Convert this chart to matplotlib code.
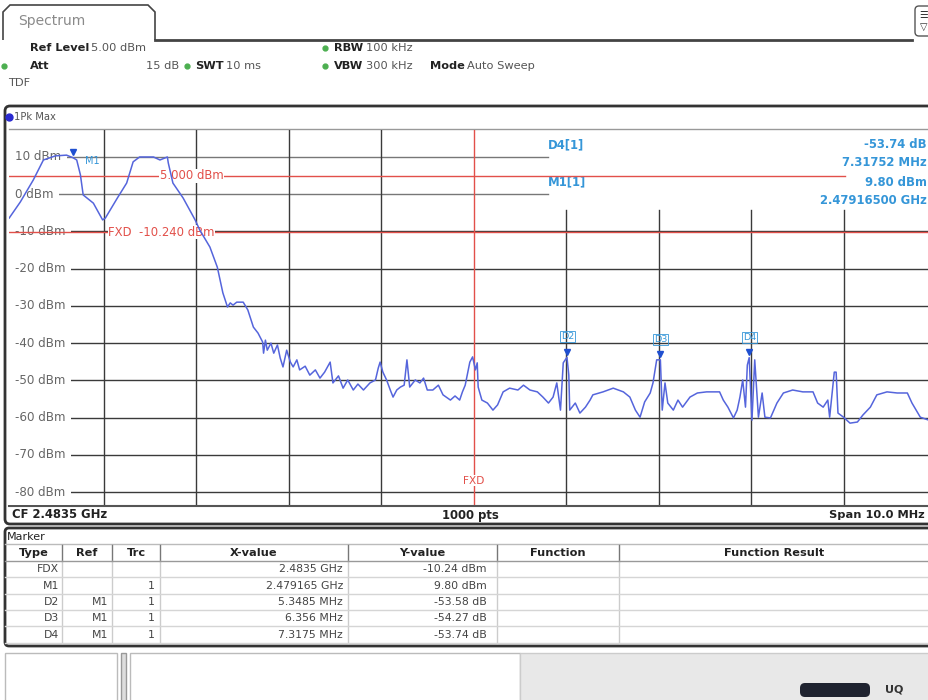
import matplotlib
matplotlib.use("Agg")
import matplotlib.pyplot as plt
from matplotlib.patches import FancyBboxPatch, Rectangle, Polygon

W, H = 929, 700

# trace: offset from CF (MHz) and level (dBm)
trace_mhz = [-5.02, -4.90, -4.76, -4.65, -4.52, -4.40, -4.33, -4.29, -4.25, -4.22,
             -4.11, -4.01, -3.98, -3.85, -3.75, -3.68, -3.61, -3.46, -3.39, -3.31,
             -3.30, -3.25, -3.14, -3.01, -2.96, -2.85, -2.77, -2.71, -2.66, -2.63,
             -2.60, -2.56, -2.49, -2.44, -2.38, -2.33, -2.28, -2.27, -2.25, -2.23,
             -2.19, -2.16, -2.12, -2.09, -2.06, -2.02, -1.98, -1.95, -1.91, -1.88,
             -1.82, -1.77, -1.71, -1.66, -1.61, -1.55, -1.52, -1.46, -1.41, -1.36,
             -1.30, -1.25, -1.19, -1.15, -1.12, -1.06, -1.03, -1.01, -0.98, -0.94,
             -0.90, -0.87, -0.83, -0.79, -0.75, -0.72, -0.69, -0.63, -0.58, -0.54,
             -0.50, -0.44, -0.38, -0.33, -0.25, -0.20, -0.15, -0.12, -0.09, -0.04,
             -0.01, 0.02, 0.04, 0.05, 0.09, 0.15, 0.21, 0.26, 0.32, 0.39,
             0.48, 0.54, 0.61, 0.69, 0.75, 0.81, 0.86, 0.90, 0.94, 0.97,
             1.01, 1.03, 1.04, 1.10, 1.15, 1.21, 1.26, 1.29, 1.40, 1.51,
             1.62, 1.69, 1.75, 1.80, 1.85, 1.91, 1.94, 1.98, 2.02, 2.04,
             2.07, 2.10, 2.16, 2.21, 2.26, 2.34, 2.42, 2.52, 2.66, 2.70,
             2.75, 2.81, 2.85, 2.88, 2.91, 2.94, 2.96, 2.98, 3.01, 3.04,
             3.08, 3.12, 3.15, 3.21, 3.28, 3.35, 3.45, 3.56, 3.67, 3.72,
             3.78, 3.83, 3.85, 3.90, 3.92, 3.94, 4.00, 4.07, 4.15, 4.21,
             4.29, 4.36, 4.47, 4.58, 4.69, 4.74, 4.83, 4.92, 5.00]
trace_dbm = [-6.4, -2.1, 3.8, 9.2, 10.3, 10.5, 9.8, 9.2, 5.2, -0.2,
             -2.4, -6.9, -6.4, -1.0, 3.0, 8.7, 10.0, 10.0, 9.2, 10.0,
             8.4, 3.0, -1.0, -6.9, -9.6, -14.2, -19.6, -26.5, -30.3, -29.2,
             -29.8, -29.0, -29.0, -31.1, -35.7, -37.3, -39.7, -42.7, -39.2, -41.9,
             -40.0, -42.7, -40.5, -44.0, -46.4, -41.9, -45.1, -46.4, -44.5, -47.2,
             -46.2, -48.6, -47.2, -49.4, -47.8, -45.1, -50.7, -48.8, -52.1, -49.9,
             -52.6, -51.0, -52.6, -51.5, -50.7, -49.9, -46.7, -45.1, -47.8, -49.9,
             -52.6, -54.5, -52.6, -51.8, -51.3, -44.5, -51.8, -49.9, -50.7, -49.4,
             -52.6, -52.6, -51.3, -53.9, -55.3, -54.2, -55.3, -53.1, -51.3, -45.1,
             -43.7, -47.2, -45.3, -51.8, -55.3, -56.1, -58.0, -56.6, -53.1, -52.1,
             -52.6, -51.3, -52.6, -53.1, -54.5, -56.1, -54.5, -50.7, -58.0, -45.3,
             -43.8, -48.6, -58.0, -56.1, -58.8, -57.2, -55.3, -53.9, -53.1, -52.1,
             -53.1, -54.5, -58.0, -59.9, -55.8, -53.4, -50.7, -44.5, -44.5, -58.0,
             -50.7, -56.1, -58.0, -55.3, -57.2, -54.5, -53.4, -53.1, -53.1, -55.3,
             -57.2, -60.1, -58.0, -54.5, -49.9, -57.2, -45.9, -43.9, -60.7, -44.5,
             -59.9, -53.4, -59.9, -60.1, -56.1, -53.4, -52.6, -53.1, -53.1, -56.1,
             -57.2, -55.3, -59.9, -47.8, -47.8, -58.8, -59.9, -61.5, -61.2, -59.3,
             -57.2, -53.9, -53.1, -53.4, -53.4, -56.1, -59.9, -60.7, -61.0]

level_grid = [10, 0, -10, -20, -30, -40, -50, -60, -70, -80]
freq_grid = [-4, -3, -2, -1, 1, 2, 3, 4]

display_line = 5.0
fxd_level = -10.24

marker_names = ["M1", "D2", "D3", "D4"]
marker_mhz = [-4.335, 1.0135, 2.021, 2.9825]
marker_dbm = [9.80, -43.78, -44.47, -43.94]

tbl_type = ["FDX", "M1", "D2", "D3", "D4"]
tbl_ref = ["", "", "M1", "M1", "M1"]
tbl_trc = ["", "1", "1", "1", "1"]
tbl_x = ["2.4835 GHz", "2.479165 GHz", "5.3485 MHz", "6.356 MHz", "7.3175 MHz"]
tbl_y = ["-10.24 dBm", "9.80 dBm", "-53.58 dB", "-54.27 dB", "-53.74 dB"]

readout = [("D4[1]", "-53.74 dB"), ("", "7.31752 MHz"),
           ("M1[1]", "9.80 dBm"), ("", "2.47916500 GHz")]

TRACE = "#5565dc"
RED = "#e2504a"
MBLUE = "#3596d8"
GRID = "#3a3a3a"
TXT = "#222222"


def px_rect(x0, y0, x1, y1):
    return [x0 / W, 1 - y1 / H, (x1 - x0) / W, (y1 - y0) / H]


fig = plt.figure(figsize=(W / 100, H / 100), dpi=100)
fig.patch.set_facecolor("white")

bg = fig.add_axes([0, 0, 1, 1])
bg.set_xlim(0, W)
bg.set_ylim(H, 0)
bg.axis("off")

# tab and header
tab = Polygon([(3, 40), (3, 12), (10, 5), (148, 5), (155, 12), (155, 40)],
              closed=False, fill=False, ec="#444444", lw=1.2)
bg.add_patch(tab)
bg.plot([155, 912], [40, 40], color="#444444", lw=2)
bg.text(18, 21, "Spectrum", fontsize=10, color="#8a8a8a", va="center")
bg.add_patch(FancyBboxPatch((915, 6), 18, 30, boxstyle="round,pad=0,rounding_size=4",
                            fc="white", ec="#555555", lw=1))
bg.text(924, 15, "\u2630", fontsize=7, color="#333333", ha="center", va="center")
bg.text(924, 27, "\u25bd", fontsize=7, color="#333333", ha="center", va="center")

fs = 8.2
bg.text(30, 48, "Ref Level", fontsize=fs, weight="bold", color=TXT, va="center")
bg.text(91, 48, "5.00 dBm", fontsize=fs, color="#555555", va="center")
bg.plot([325], [48], "o", ms=3.5, color="#4caf50")
bg.text(334, 48, "RBW", fontsize=fs, weight="bold", color=TXT, va="center")
bg.text(366, 48, "100 kHz", fontsize=fs, color="#555555", va="center")

bg.plot([4], [66], "o", ms=3.5, color="#4caf50")
bg.text(30, 66, "Att", fontsize=fs, weight="bold", color=TXT, va="center")
bg.text(146, 66, "15 dB", fontsize=fs, color="#555555", va="center")
bg.plot([187], [66], "o", ms=3.5, color="#4caf50")
bg.text(195, 66, "SWT", fontsize=fs, weight="bold", color=TXT, va="center")
bg.text(226, 66, "10 ms", fontsize=fs, color="#555555", va="center")
bg.plot([325], [66], "o", ms=3.5, color="#4caf50")
bg.text(334, 66, "VBW", fontsize=fs, weight="bold", color=TXT, va="center")
bg.text(366, 66, "300 kHz", fontsize=fs, color="#555555", va="center")
bg.text(430, 66, "Mode", fontsize=fs, weight="bold", color=TXT, va="center")
bg.text(467, 66, "Auto Sweep", fontsize=fs, color="#555555", va="center")
bg.text(8, 83, "TDF", fontsize=fs, color="#555555", va="center")

# diagram panel
bg.add_patch(FancyBboxPatch((5, 106), 940, 418, boxstyle="round,pad=0,rounding_size=5",
                            fc="white", ec="#333333", lw=2))
bg.plot([9, W], [129, 129], color="#999999", lw=1)
bg.plot([9], [117], "o", ms=5, color="#2a2ad0")
bg.text(14, 117, "1Pk Max", fontsize=7.2, color="#555555", va="center")
bg.plot([9, W], [506, 506], color="#555555", lw=1.5)
bg.text(12, 515, "CF 2.4835 GHz", fontsize=8.4, weight="bold", color=TXT, va="center")
bg.text(470, 515, "1000 pts", fontsize=8.4, weight="bold", color=TXT, va="center", ha="center")
bg.text(925, 515, "Span 10.0 MHz", fontsize=8.2, weight="bold", color=TXT, va="center", ha="right")

# spectrum axes
ax = fig.add_axes(px_rect(9, 130, W, 505))
ax.set_xlim(-5.022, 4.924)
ax.set_ylim(-83.49, 17.25)
ax.axis("off")

for lv in level_grid:
    xmax = 0.81 if lv > -5 else 6
    ax.plot([-6, xmax], [lv, lv], color=GRID if lv <= -10 else "#777777", lw=1, zorder=1)
    ax.text(0.006, lv, f"{lv} dBm", transform=ax.get_yaxis_transform(), fontsize=8.6,
            color="#666666", va="center", ha="left", zorder=2,
            bbox=dict(fc="white", ec="none", pad=4.5))
for fr in freq_grid:
    top = 20 if fr < 0 else -4.3
    ax.plot([fr, fr], [-90, top], color=GRID, lw=1, zorder=1)

# display line and fixed reference
ax.plot([-6, 4.02], [display_line, display_line], color=RED, lw=1, zorder=3)
ax.text(-3.05, display_line, "5.000 dBm", fontsize=8.4, color=RED, va="center", ha="center",
        zorder=3, bbox=dict(fc="white", ec="none", pad=0.3))
ax.plot([-6, 6], [fxd_level, fxd_level], color=RED, lw=1, zorder=3)
ax.text(-3.95, fxd_level, "FXD  -10.240 dBm", fontsize=8.4, color=RED, va="center", ha="left",
        zorder=3, bbox=dict(fc="white", ec="none", pad=0.3))
ax.plot([0, 0], [-90, 20], color=RED, lw=1, zorder=3)
ax.text(0, -77, "FXD", fontsize=7.6, color=RED, va="center", ha="center", zorder=3,
        bbox=dict(fc="white", ec="none", pad=0.3))

ax.plot(trace_mhz, trace_dbm, color=TRACE, lw=1.1, zorder=4)

# markers
for name, fm, lv in zip(marker_names, marker_mhz, marker_dbm):
    ax.plot([fm], [lv + 1.5], marker="v", ms=5, color="#1f4fd0", zorder=5)
    if name == "M1":
        ax.text(fm + 0.13, lv - 0.8, name, fontsize=7, color=MBLUE, va="center", zorder=5)
    else:
        ax.text(fm, lv + 5.5, name, fontsize=6.8, color=MBLUE, va="center", ha="center", zorder=5,
                bbox=dict(fc="none", ec=MBLUE, lw=0.6, pad=0.6))

# marker readout
ry = [145, 163, 182, 200]
for (lab, val), yy in zip(readout, ry):
    if lab:
        bg.text(548, yy, lab, fontsize=8.4, color=MBLUE, va="center", weight="bold")
    bg.text(927, yy, val, fontsize=8.4, color=MBLUE, va="center", ha="right", weight="bold")

# marker table
bg.add_patch(FancyBboxPatch((5, 528), 940, 118, boxstyle="round,pad=0,rounding_size=4",
                            fc="white", ec="#333333", lw=2))
bg.text(7, 537, "Marker", fontsize=8, color=TXT, va="center")
col_x = [5, 62, 112, 160, 348, 497, 619, W]
heads = ["Type", "Ref", "Trc", "X-value", "Y-value", "Function", "Function Result"]
row_h = 16.3
head_y = 553
bg.plot([5, W], [544, 544], color="#bbbbbb", lw=1)
for i, h in enumerate(heads):
    bg.text((col_x[i] + col_x[i + 1]) / 2, head_y, h, fontsize=8.2, weight="bold",
            color=TXT, ha="center", va="center")
for cx in col_x[1:-1]:
    bg.plot([cx, cx], [545, 561], color="#777777", lw=1)
    bg.plot([cx, cx], [561, 643], color="#cccccc", lw=1)
for r in range(6):
    yl = 561 + r * row_h
    bg.plot([5, W], [yl, yl], color="#999999" if r == 0 else "#d5d5d5", lw=1)
for r in range(5):
    yy = 569.5 + r * row_h
    bg.text(col_x[1] - 3, yy, tbl_type[r], fontsize=7.8, color="#444444", ha="right", va="center")
    bg.text(col_x[2] - 4, yy, tbl_ref[r], fontsize=7.8, color="#444444", ha="right", va="center")
    bg.text(col_x[3] - 5, yy, tbl_trc[r], fontsize=7.8, color="#444444", ha="right", va="center")
    bg.text(col_x[4] - 5, yy, tbl_x[r], fontsize=7.8, color="#444444", ha="right", va="center")
    bg.text(col_x[5] - 10, yy, tbl_y[r], fontsize=7.8, color="#444444", ha="right", va="center")

# status bar
bg.add_patch(Rectangle((5, 653), 112, 50, fc="white", ec="#bbbbbb", lw=1))
bg.add_patch(Rectangle((121, 653), 5, 50, fc="#dddddd", ec="#999999", lw=1))
bg.add_patch(Rectangle((130, 653), 390, 50, fc="white", ec="#bbbbbb", lw=1))
bg.add_patch(Rectangle((520, 653), 420, 50, fc="#e8e8e8", ec="#cccccc", lw=1))
bg.add_patch(FancyBboxPatch((800, 683), 70, 14, boxstyle="round,pad=0,rounding_size=5",
                            fc="#1f2330", ec="none"))
bg.text(885, 690, "UQ", fontsize=8, color="#333333", va="center", weight="bold")

fig.savefig("out.png", dpi=100)
